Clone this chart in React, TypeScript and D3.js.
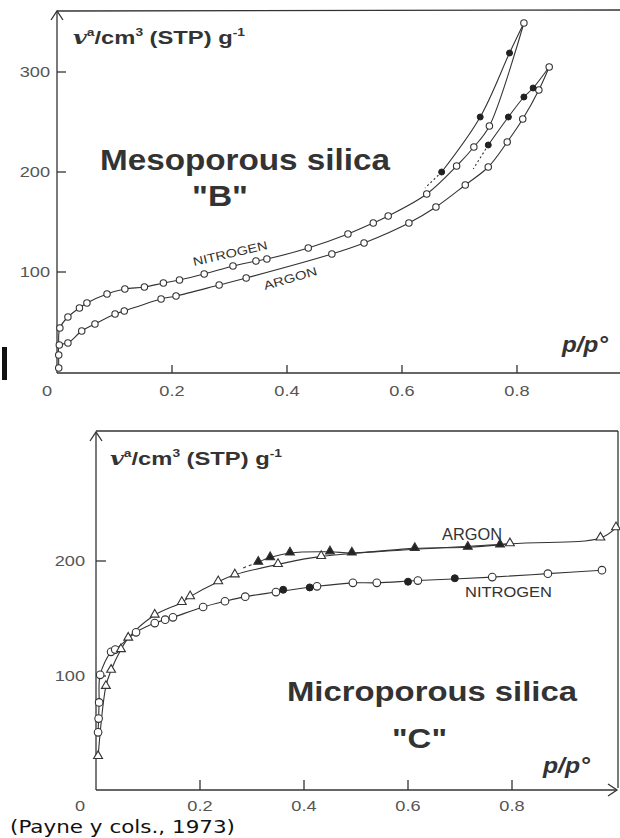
import React from "react";
import * as d3 from "d3";

type Pt = [number, number];

// ---------- Top panel: Mesoporous silica "B" (p/p°, v cm3/g) ----------
const mesoN2Ads: Pt[] = [
  [0.003, 30], [0.005, 44], [0.019, 55], [0.039, 64], [0.052, 69], [0.087, 78], [0.118, 83],
  [0.152, 85], [0.185, 89], [0.213, 92], [0.256, 98], [0.306, 106], [0.346, 111],
  [0.365, 113], [0.437, 124], [0.506, 138], [0.55, 149], [0.576, 156], [0.643, 178],
  [0.695, 206], [0.725, 225], [0.752, 246], [0.812, 349],
];
const mesoN2Des: Pt[] = [[0.812, 349], [0.787, 319], [0.736, 255], [0.669, 200]];
const mesoN2DesJoin: Pt[] = [[0.669, 200], [0.64, 184]];

const mesoArAds: Pt[] = [
  [0.003, 4], [0.003, 17], [0.004, 27], [0.019, 29], [0.043, 41], [0.066, 48], [0.101, 58],
  [0.117, 61], [0.181, 73], [0.207, 76], [0.282, 87], [0.329, 94], [0.478, 118],
  [0.534, 129], [0.612, 149], [0.659, 165], [0.71, 187], [0.75, 205], [0.783, 230],
  [0.81, 253], [0.838, 282], [0.856, 305],
];
const mesoArDes: Pt[] = [[0.856, 305], [0.828, 284], [0.812, 275], [0.785, 255], [0.75, 227]];
const mesoArDesJoin: Pt[] = [[0.75, 227], [0.724, 203]];

// ---------- Bottom panel: Microporous silica "C" ----------
const microN2Ads: Pt[] = [
  [0.004, 51], [0.005, 63], [0.006, 77], [0.008, 101], [0.029, 121], [0.037, 123],
  [0.077, 138], [0.113, 146], [0.133, 149], [0.148, 151], [0.206, 160], [0.248, 165],
  [0.287, 169], [0.346, 173], [0.425, 178], [0.494, 181], [0.54, 181], [0.619, 183],
  [0.762, 186], [0.869, 189], [0.973, 192],
];
const microN2Des: Pt[] = [[0.36, 175], [0.411, 177], [0.6, 182], [0.69, 185]];

const microArAds: Pt[] = [
  [0.004, 30], [0.019, 91], [0.029, 105], [0.048, 123], [0.062, 133], [0.113, 153],
  [0.165, 164], [0.181, 169], [0.235, 182], [0.267, 188], [0.35, 197], [0.433, 204],
  [0.796, 215], [0.97, 220], [1.0, 229],
];
const microArDes: Pt[] = [
  [0.312, 199], [0.335, 203], [0.373, 207], [0.45, 208], [0.492, 207], [0.613, 211],
  [0.715, 212], [0.777, 214],
];
const microArDesLead: Pt[] = [[0.283, 194], [0.312, 199]];
const microArDesTail: Pt[] = [[0.777, 214], [0.796, 215]];

const xTicks = [0.2, 0.4, 0.6, 0.8];
const xTickLabels = ["0", "0.2", "0.4", "0.6", "0.8"];
const topYTicks = [100, 200, 300];
const botYTicks = [100, 200];

const INK = "#333";
const LINE = "#333";

// scales
const xT = d3.scaleLinear().domain([0, 1]).range([57, 632]);
const yT = d3.scaleLinear().domain([0, 100]).range([372, 272]);
const xB = d3.scaleLinear().domain([0, 1]).range([96, 616]);
const yB = d3.scaleLinear().domain([0, 100]).range([791, 676]);

function mkLine(x: d3.ScaleLinear<number, number>, y: d3.ScaleLinear<number, number>) {
  return d3
    .line<Pt>()
    .x((d) => x(d[0]))
    .y((d) => y(d[1]))
    .curve(d3.curveCatmullRom.alpha(0.5));
}
const lineT = mkLine(xT, yT);
const lineB = mkLine(xB, yB);

const tri = d3.symbol().type(d3.symbolTriangle).size(34);

function Title({ x, y }: { x: number; y: number }) {
  return (
    <g transform={`translate(${x},${y}) scale(1.25,1)`}>
      <text fontFamily="Liberation Sans, Arial, sans-serif" fontWeight="bold" fontSize={19} fill={INK}>
        <tspan fontFamily="DejaVu Serif, serif" fontStyle="italic">v</tspan>
        <tspan fontSize={11} dy={-8}>a</tspan>
        <tspan dy={8}>/cm</tspan>
        <tspan fontSize={11} dy={-8}>3</tspan>
        <tspan dy={8}> (STP) g</tspan>
        <tspan fontSize={11} dy={-8}>-1</tspan>
      </text>
    </g>
  );
}

function TickText({ x, y, t, anchor }: { x: number; y: number; t: string; anchor: string }) {
  return (
    <g transform={`translate(${x},${y}) scale(1.3,1)`}>
      <text fontFamily="Liberation Sans, Arial, sans-serif" fontSize={14} fill="#555" textAnchor={anchor}>
        {t}
      </text>
    </g>
  );
}

export default function App() {
  const openC = (pts: Pt[], x: any, y: any, r: number, key: string) =>
    pts.map((d, i) => (
      <circle key={key + i} cx={x(d[0])} cy={y(d[1])} r={r} fill="#fff" stroke={LINE} strokeWidth={1.1} />
    ));
  const fillC = (pts: Pt[], x: any, y: any, r: number, key: string) =>
    pts.map((d, i) => <circle key={key + i} cx={x(d[0])} cy={y(d[1])} r={r} fill="#222" stroke="#222" />);
  const tris = (pts: Pt[], filled: boolean, key: string) =>
    pts.map((d, i) => (
      <path
        key={key + i}
        d={tri() as string}
        transform={`translate(${xB(d[0])},${yB(d[1]) - 0.5})`}
        fill={filled ? "#222" : "#fff"}
        stroke={LINE}
        strokeWidth={1.1}
      />
    ));

  return (
    <svg width={620} height={838} style={{ position: "absolute", left: 0, top: 0, background: "#fff" }}>
      <rect x={0} y={0} width={620} height={838} fill="#fff" />

      {/* ================= TOP PANEL ================= */}
      <g stroke={LINE} strokeWidth={1.3} fill="none">
        <line x1={xT(0)} y1={11} x2={xT(0)} y2={373} />
        <line x1={xT(0)} y1={11} x2={620} y2={10} />
        <line x1={xT(0)} y1={373} x2={620} y2={373} />
        <path d={`M${xT(0) - 6},20 L${xT(0)},11 L${xT(0) + 6},20`} />
        {topYTicks.map((v) => (
          <line key={"tyt" + v} x1={xT(0)} x2={xT(0) + 9} y1={yT(v)} y2={yT(v)} />
        ))}
        {xTicks.map((v) => (
          <line key={"txt" + v} x1={xT(v)} x2={xT(v)} y1={373} y2={365} />
        ))}
      </g>
      {topYTicks.map((v) => (
        <TickText key={"tyl" + v} x={50} y={yT(v) + 5} t={String(v)} anchor="end" />
      ))}
      {[0, ...xTicks].map((v, i) => (
        <TickText key={"txl" + v} x={i === 0 ? 47 : xT(v)} y={396} t={xTickLabels[i]} anchor="middle" />
      ))}
      <rect x={2} y={347} width={5} height={33} fill="#111" />

      <Title x={73} y={44} />

      <text x={100} y={170} fontFamily="Liberation Sans, Arial, sans-serif" fontWeight="bold" fontSize={30}
        fill={INK} textLength={290} lengthAdjust="spacingAndGlyphs">Mesoporous silica</text>
      <text x={192} y={206} fontFamily="Liberation Sans, Arial, sans-serif" fontWeight="bold" fontSize={30}
        fill={INK} textLength={56} lengthAdjust="spacingAndGlyphs">"B"</text>
      <text x={562} y={352} fontFamily="Liberation Sans, Arial, sans-serif" fontWeight="bold" fontStyle="italic"
        fontSize={22} fill={INK} textLength={46} lengthAdjust="spacingAndGlyphs">p/p°</text>

      <text transform={`translate(194,266) rotate(-13)`} fontFamily="Liberation Sans, Arial, sans-serif"
        fontSize={12} fill={INK} textLength={76} lengthAdjust="spacingAndGlyphs">NITROGEN</text>
      <text transform={`translate(265,290) rotate(-16)`} fontFamily="Liberation Sans, Arial, sans-serif"
        fontSize={12} fill={INK} textLength={55} lengthAdjust="spacingAndGlyphs">ARGON</text>

      <g fill="none" stroke={LINE} strokeWidth={1.1}>
        <path d={lineT(mesoN2Ads) as string} />
        <path d={lineT(mesoN2Des) as string} />
        <path d={lineT(mesoN2DesJoin) as string} strokeDasharray="2,2.5" />
        <path d={lineT(mesoArAds) as string} />
        <path d={lineT(mesoArDes) as string} />
        <path d={lineT(mesoArDesJoin) as string} strokeDasharray="2,2.5" />
      </g>
      {openC(mesoN2Ads.slice(1), xT, yT, 3.2, "mna")}
      {fillC(mesoN2Des.slice(1), xT, yT, 3, "mnd")}
      {openC(mesoArAds, xT, yT, 3.2, "maa")}
      {fillC(mesoArDes.slice(1), xT, yT, 3, "mad")}

      {/* ================= BOTTOM PANEL ================= */}
      <g stroke={LINE} strokeWidth={1.3} fill="none">
        <line x1={xB(0)} y1={432} x2={xB(0)} y2={790} />
        <line x1={xB(0)} y1={431} x2={618} y2={431} />
        <line x1={618} y1={431} x2={618} y2={788} />
        <line x1={xB(0)} y1={790} x2={617} y2={790} />
        <path d={`M${xB(0) - 6},441 L${xB(0)},432 L${xB(0) + 6},441`} />
        <path d={`M608,784 L617,790 L608,796`} />
        {botYTicks.map((v) => (
          <line key={"byt" + v} x1={xB(0)} x2={xB(0) + 10} y1={yB(v)} y2={yB(v)} />
        ))}
        {xTicks.map((v) => (
          <line key={"bxt" + v} x1={xB(v)} x2={xB(v)} y1={790} y2={780} />
        ))}
      </g>
      {botYTicks.map((v) => (
        <TickText key={"byl" + v} x={85} y={yB(v) + 5} t={String(v)} anchor="end" />
      ))}
      {[0, ...xTicks].map((v, i) => (
        <TickText key={"bxl" + v} x={i === 0 ? 80 : xB(v)} y={811} t={xTickLabels[i]} anchor="middle" />
      ))}

      <Title x={110} y={465} />

      <text x={287} y={701} fontFamily="Liberation Sans, Arial, sans-serif" fontWeight="bold" fontSize={28}
        fill={INK} textLength={290} lengthAdjust="spacingAndGlyphs">Microporous silica</text>
      <text x={392} y={748} fontFamily="Liberation Sans, Arial, sans-serif" fontWeight="bold" fontSize={28}
        fill={INK} textLength={55} lengthAdjust="spacingAndGlyphs">"C"</text>
      <text x={543} y={773} fontFamily="Liberation Sans, Arial, sans-serif" fontWeight="bold" fontStyle="italic"
        fontSize={22} fill={INK} textLength={47} lengthAdjust="spacingAndGlyphs">p/p°</text>

      <text x={442} y={540} fontFamily="Liberation Sans, Arial, sans-serif" fontSize={16} fill={INK}
        textLength={60} lengthAdjust="spacingAndGlyphs">ARGON</text>
      <text x={465} y={597} fontFamily="Liberation Sans, Arial, sans-serif" fontSize={15} fill={INK}
        textLength={87} lengthAdjust="spacingAndGlyphs">NITROGEN</text>

      <g fill="none" stroke={LINE} strokeWidth={1.1}>
        <path d={lineB(microN2Ads) as string} />
        <path d={lineB(microArAds) as string} />
        <path d={lineB(microArDes) as string} />
        <path d={lineB(microArDesLead) as string} strokeDasharray="3,3" />
        <path d={lineB(microArDesTail) as string} />
      </g>
      {openC(microN2Ads, xB, yB, 3.8, "bna")}
      {fillC(microN2Des, xB, yB, 3.5, "bnd")}
      {tris(microArAds, false, "baa")}
      {tris(microArDes, true, "bad")}

      <text x={10} y={833} fontFamily="DejaVu Sans, Verdana, sans-serif" fontSize={17} fill="#111"
        textLength={225} lengthAdjust="spacingAndGlyphs">(Payne y cols., 1973)</text>
    </svg>
  );
}
